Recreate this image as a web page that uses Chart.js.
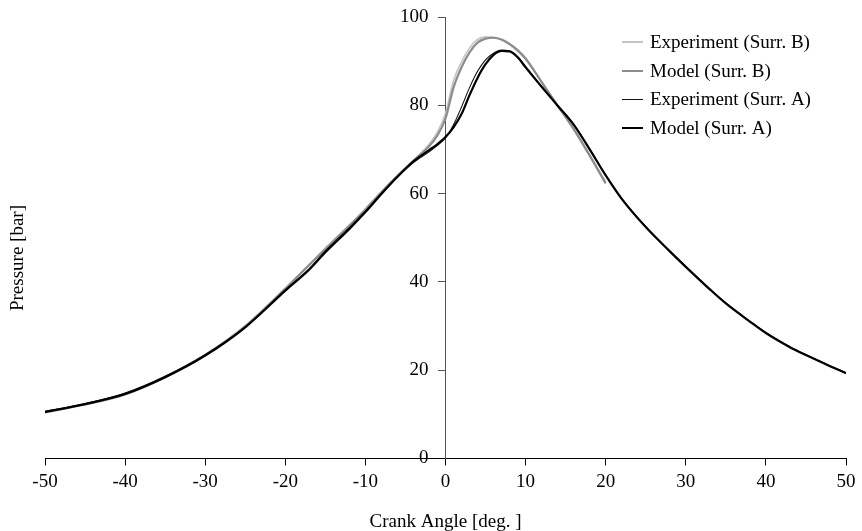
<!DOCTYPE html>
<html>
<head>
<meta charset="utf-8">
<script src="https://cdn.jsdelivr.net/npm/chart.js@4/dist/chart.umd.min.js"></script>
<style>
  html, body { margin: 0; padding: 0; background: #fff; }
  canvas { display: block; }
</style>
</head>
<body>
<canvas id="pressureChart" width="862" height="531"></canvas>
<script>
const anglesA = [-50, -45, -40, -35, -30, -25, -20, -17, -15, -12, -10, -8, -6, -4, -2, -1, 0, 1, 2, 3, 4, 5, 6, 7, 8, 9, 10, 12, 14, 16, 18, 20, 22, 25, 28, 30, 33, 35, 38, 40, 43, 45, 48, 50];
const anglesB = [-50, -45, -40, -35, -30, -25, -20, -17, -15, -12, -10, -8, -6, -4, -2, -1, 0, 1, 2, 3, 4, 5, 6, 7, 8, 9, 10, 12, 14, 16, 18, 20];

// pressure [bar]
const expB = [10.6, 12.4, 14.7, 18.6, 23.6, 30.1, 38.6, 44.0, 47.7, 52.9, 56.5, 60.4, 64.1, 67.6, 71.3, 74.0, 78.2, 85.6, 89.8, 93.0, 94.9, 95.5, 95.4, 94.8, 93.7, 92.2, 90.4, 85.2, 80.0, 74.8, 68.8, 62.6];
const modelB = [10.4, 12.2, 14.5, 18.4, 23.4, 29.9, 38.4, 43.8, 47.4, 52.7, 56.4, 60.3, 64.0, 67.4, 70.8, 73.2, 77.0, 84.0, 88.6, 92.0, 94.2, 95.1, 95.3, 94.9, 93.9, 92.5, 90.6, 85.3, 79.9, 74.6, 68.6, 62.3];
const expA = [10.7, 12.4, 14.8, 18.6, 23.5, 29.8, 38.2, 43.0, 47.0, 52.3, 56.0, 60.1, 63.8, 67.0, 69.5, 70.9, 72.6, 75.6, 79.6, 84.0, 87.7, 90.3, 91.8, 92.5, 92.3, 91.0, 88.8, 84.3, 80.0, 75.7, 70.1, 64.2, 58.9, 52.5, 47.0, 43.5, 38.4, 35.2, 31.1, 28.5, 25.3, 23.5, 21.0, 19.4];
const modelA = [10.5, 12.3, 14.6, 18.4, 23.3, 29.7, 38.0, 42.8, 46.7, 52.0, 55.8, 59.9, 63.8, 67.3, 69.9, 71.2, 72.8, 75.0, 78.0, 82.3, 86.2, 89.3, 91.4, 92.3, 92.2, 90.9, 88.6, 84.2, 79.9, 75.6, 70.0, 64.1, 58.8, 52.4, 46.9, 43.4, 38.3, 35.1, 31.0, 28.4, 25.2, 23.4, 20.9, 19.3];

const xTicks = [-50, -40, -30, -20, -10, 0, 10, 20, 30, 40, 50];
const yTicks = [0, 20, 40, 60, 80, 100];

const serif = '"Liberation Serif", "Times New Roman", serif';

function points (xs, ys) {
  return xs.map((x, i) => ({ x: x, y: ys[i] }));
}

// dataset 0 is drawn on top, so the black A curves come first
const datasets = [
  { label: 'Model (Surr. A)', data: points(anglesA, modelA), borderColor: '#000000', borderWidth: 2.2 },
  { label: 'Experiment (Surr. A)', data: points(anglesA, expA), borderColor: '#111111', borderWidth: 1.1 },
  { label: 'Model (Surr. B)', data: points(anglesB, modelB), borderColor: '#8c8c8c', borderWidth: 2.2 },
  { label: 'Experiment (Surr. B)', data: points(anglesB, expB), borderColor: '#c4c4c4', borderWidth: 1.6 }
];
datasets.forEach(d => {
  d.pointRadius = 0;
  d.fill = false;
  d.cubicInterpolationMode = 'monotone';
});

// legend order as in the figure (indexes into datasets)
const legendOrder = [3, 2, 1, 0];

const overlayText = {
  id: 'overlayText',
  afterDraw (chart) {
    const ctx = chart.ctx;
    const area = chart.chartArea;
    ctx.save();
    ctx.font = '19px ' + serif;
    ctx.fillStyle = '#000';
    ctx.textBaseline = 'middle';
    ctx.textAlign = 'left';
    legendOrder.forEach((idx, i) => {
      const ds = chart.data.datasets[idx];
      const y = Math.round(area.top + 25 + i * 28.5);
      const x = Math.round(area.right - 224);
      // snap thin sample lines to the pixel grid so they stay crisp
      const lw = Math.round(ds.borderWidth);
      const ly = lw % 2 ? y + 0.5 : y;
      ctx.strokeStyle = ds.borderColor;
      ctx.lineWidth = lw;
      ctx.beginPath();
      ctx.moveTo(x, ly);
      ctx.lineTo(x + 21, ly);
      ctx.stroke();
      ctx.fillText(ds.label, x + 28, y + 1);
    });
    // y axis title sits at the far left edge
    ctx.translate(18, 258);
    ctx.rotate(-Math.PI / 2);
    ctx.textAlign = 'center';
    ctx.fillText('Pressure [bar]', 0, 0);
    ctx.restore();
  }
};

const config = {
  type: 'line',
  data: { datasets: datasets },
  options: {
    responsive: false,
    animation: false,
    layout: { autoPadding: false, padding: { top: 17, right: 16, left: 45, bottom: -2 } },
    plugins: {
      legend: { display: false },
      tooltip: { enabled: false }
    },
    scales: {
      x: {
        type: 'linear',
        position: 'bottom',
        min: -50,
        max: 50,
        afterBuildTicks: axis => { axis.ticks = xTicks.map(v => ({ value: v })); },
        ticks: { font: { family: serif, size: 19 }, color: '#000', padding: 5, maxRotation: 0 },
        grid: { drawOnChartArea: false, drawTicks: true, tickLength: 7, color: '#000' },
        border: { display: true, color: '#000', width: 1 },
        title: {
          display: true,
          text: 'Crank Angle [deg. ]',
          font: { family: serif, size: 19 },
          color: '#000',
          padding: { top: 12, bottom: 0 }
        }
      },
      y: {
        type: 'linear',
        // x range is symmetric, so the centre of the plot is x = 0
        position: 'center',
        min: 0,
        max: 100,
        afterBuildTicks: axis => { axis.ticks = yTicks.map(v => ({ value: v })); },
        // let the "100" label overhang the top instead of pushing the plot down
        afterFit: axis => { axis.paddingTop = 0; },
        ticks: { font: { family: serif, size: 19 }, color: '#000', padding: 10 },
        grid: { drawOnChartArea: false, drawTicks: true, tickLength: 7, color: '#555' },
        border: { display: true, color: '#555', width: 1 }
      }
    }
  },
  plugins: [overlayText]
};

const myChart = new Chart(document.getElementById('pressureChart'), config);
</script>
</body>
</html>
